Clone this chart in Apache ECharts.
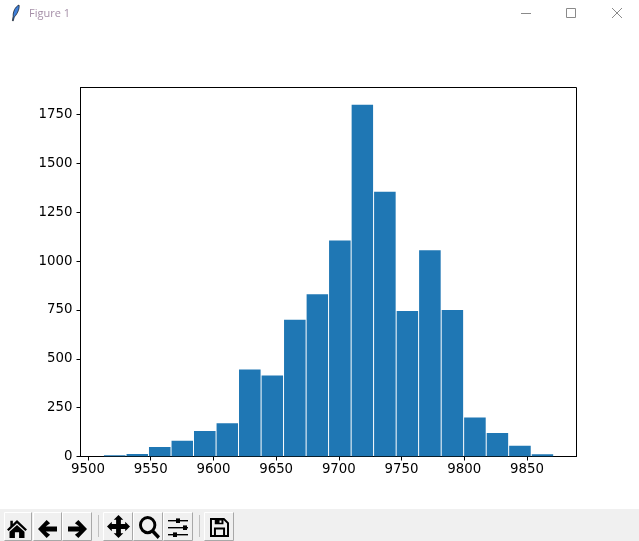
<!DOCTYPE html>
<html><head><meta charset="utf-8">
<style>html,body{margin:0;padding:0;background:#fff}#c{width:639px;height:541px}</style>
<script src="https://cdn.jsdelivr.net/npm/echarts@6/dist/echarts.min.js"></script>
</head><body><div id="c"></div>
<script>
const binEdges = [9512.3,9530.3,9548.2,9566.2,9584.1,9602.1,9620,9638,9655.9,9673.9,9691.8,9709.8,9727.7,9745.7,9763.6,9781.6,9799.5,9817.5,9835.4,9853.4,9871.3];
const counts = [6,13,48,80,130,170,445,415,700,830,1105,1800,1355,745,1055,750,200,120,55,12];
const xTicks = [9500,9550,9600,9650,9700,9750,9800,9850];
const yTicks = [0,250,500,750,1000,1250,1500,1750];
const windowTitle = 'Figure 1';
const font = '"DejaVu Sans"';
const data = counts.map((c,i)=>[binEdges[i],binEdges[i+1],c]);
const g = [];
g.push({type:'rect',silent:true,shape:{x:0,y:509,width:639,height:32},style:{fill:'#f0f0f0'}});
const btn = (x,w)=>{
  g.push({type:'polyline',silent:true,shape:{points:[[x+.5,540],[x+.5,512.5],[x+w-.5,512.5]]},style:{fill:null,stroke:'#fff',lineWidth:1}});
  g.push({type:'polyline',silent:true,shape:{points:[[x+w-.5,512.5],[x+w-.5,540.5],[x+.5,540.5]]},style:{fill:null,stroke:'#a8a8a8',lineWidth:1}});
};
[[4,28],[33,29],[62,30],[103,30],[133,30],[163,30],[204,30]].forEach(b=>btn(b[0],b[1]));
let icN = 0;
const ic = (d,vw,vh,x,y,w,h,extra)=>{
  const name='ic'+(icN++);
  echarts.graphic.registerShape(name, echarts.graphic.extendPath(d,{}));
  g.push({type:name,silent:true,x,y,scaleX:w/vw,scaleY:h/vh,style:Object.assign({fill:'#000'},extra||{})});
};
ic('M12 0L24 11.5L22 13.5L12 4L2 13.5L0 11.5L4 7.7V1H7V4.8ZM12 6L21 14.5V22H14.5V15H9.5V22H3V14.5Z',24,22,7,520,20,18);
ic('M10 0L14 4L9 8H22V14H9L14 18L10 22L0 11Z',22,22,38,520,19,18);
ic('M12 0L8 4L13 8H0V14H13L8 18L12 22L22 11Z',22,22,68,520,19,18);
ic('M12 0L17 5H14.5V9.5H19V7L24 12L19 17V14.5H14.5V19H17L12 24L7 19H9.5V14.5H5V17L0 12L5 7V9.5H9.5V5H7Z',24,24,107,515,23,23);
ic('M9.5 0A9.5 9.5 0 1 1 9.5 19A9.5 9.5 0 1 1 9.5 0ZM9.5 3.2A6.3 6.3 0 1 0 9.5 15.8A6.3 6.3 0 1 0 9.5 3.2ZM15 13L23 21L20.5 24L12.5 16Z',23,24,139,516,21,23);
[[168,520,20,1.4,176],[168,527,20,1.4,183],[168,534,20,1.4,173]].forEach(a=>{
  g.push({type:'rect',silent:true,shape:{x:a[0],y:a[1],width:a[2],height:a[3]},style:{fill:'#000'}});
  g.push({type:'rect',silent:true,shape:{x:a[4],y:a[1]-1.6,width:4,height:4.6},style:{fill:'#000'}});
});
ic('M0 0H18L24 6V24H0ZM2.5 2.5V21.5H5V12H19V21.5H21.5V7L17 2.5V8H6V2.5ZM7.5 14.5V21.5H16.5V14.5ZM12 3V6H14.5V3Z',24,24,210,518,19,19);
g.push({type:'rect',silent:true,shape:{x:98,y:515,width:1,height:22},style:{fill:'#c0c0c0'}});
g.push({type:'rect',silent:true,shape:{x:199,y:515,width:1,height:22},style:{fill:'#c0c0c0'}});
ic('M9 0C10 3 8 10 3 15L1.5 20L0.5 19.5L1.5 14C1 9 4 2 9 0Z',9,20,12,5,7,16,{fill:'#3f7fd8',stroke:'#000',lineWidth:.8});
g.push({type:'text',silent:true,style:{x:29,y:14,text:windowTitle,font:'11px "Open Sans"',fill:'#a58fa8',verticalAlign:'middle'}});
g.push({type:'rect',silent:true,shape:{x:521,y:13,width:10,height:1},style:{fill:'#8a8a8a'}});
g.push({type:'rect',silent:true,shape:{x:566.5,y:8.5,width:9,height:9},style:{fill:null,stroke:'#8a8a8a',lineWidth:1}});
g.push({type:'line',silent:true,shape:{x1:612,y1:8,x2:622,y2:18},style:{stroke:'#8a8a8a',lineWidth:1}});
g.push({type:'line',silent:true,shape:{x1:622,y1:8,x2:612,y2:18},style:{stroke:'#8a8a8a',lineWidth:1}});

const chart = echarts.init(document.getElementById('c'),null,{renderer:'canvas'});
const labelBase = {color:'#000',fontFamily:font,fontSize:13.33,margin:7,hideOverlap:false};
chart.setOption({
  animation:false,
  backgroundColor:'#fff',
  grid:{left:80.5,top:87.5,width:496,height:369,show:true,borderColor:'#000',borderWidth:1,backgroundColor:'transparent'},
  xAxis:{type:'value',min:9494,max:9889.5,
    axisLine:{show:true,onZero:false,lineStyle:{color:'#000',width:1}},
    axisTick:{show:true,length:4,lineStyle:{color:'#000',width:1},customValues:xTicks},
    splitLine:{show:false},
    axisLabel:Object.assign({},labelBase,{customValues:xTicks,formatter:v=>String(v)})},
  yAxis:{type:'value',min:0,max:1888,
    axisLine:{show:true,onZero:false,lineStyle:{color:'#000',width:1}},
    axisTick:{show:true,length:4,lineStyle:{color:'#000',width:1},customValues:yTicks},
    splitLine:{show:false},
    axisLabel:Object.assign({},labelBase,{margin:8,customValues:yTicks,formatter:v=>String(v)})},
  series:[{type:'custom',clip:true,data,encode:{x:[0,1],y:2},
    renderItem:(p,api)=>{
      const a=api.coord([api.value(0),api.value(2)]), b=api.coord([api.value(1),0]);
      return {type:'rect',shape:{x:a[0]+.5,y:a[1],width:b[0]-a[0]-1,height:b[1]-a[1]},
        style:{fill:'#1f77b4',lineWidth:0}};
    }}],
  graphic:{elements:g}
});
</script></body></html>
